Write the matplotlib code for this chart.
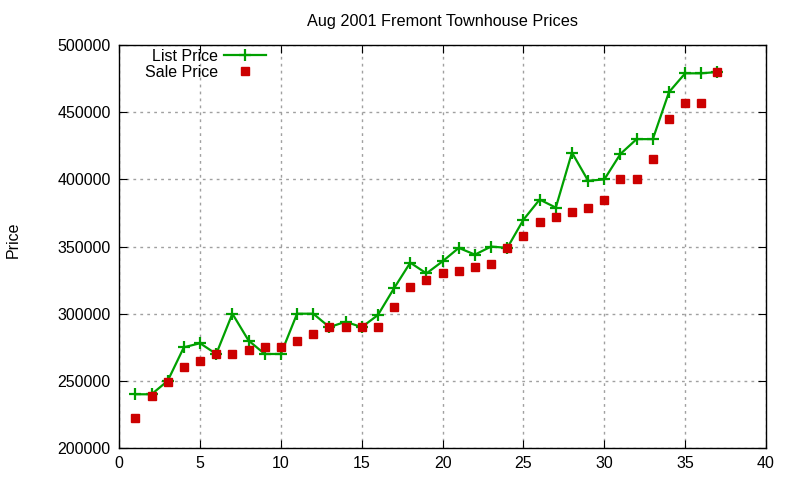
import matplotlib
matplotlib.use('Agg')
import matplotlib.pyplot as plt

plt.rcParams['font.family'] = ['Liberation Sans', 'DejaVu Sans']

idx = list(range(1, 38))
list_price = [240000, 240000, 250000, 275000, 278000, 270000, 300000, 280000, 270000, 270000,
              300000, 300000, 290000, 294000, 290000, 299000, 319000, 338000, 330000, 339000,
              349000, 344000, 350000, 349000, 370000, 385000, 379000, 420000, 399000, 400000,
              419000, 430000, 430000, 465000, 479000, 479000, 480000]
sale_price = [222000, 239000, 249000, 260000, 265000, 270000, 270000, 273000, 275000, 275000,
              280000, 285000, 290000, 290000, 290000, 290000, 305000, 320000, 325000, 330000,
              332000, 335000, 337000, 349000, 358000, 368000, 372000, 376000, 379000, 385000,
              400000, 400000, 415000, 445000, 457000, 457000, 480000]

fig = plt.figure(figsize=(8, 4.8), dpi=100)
ax = fig.add_axes([0.149, 0.0667, 0.8085, 0.8393])

ax.plot(idx, list_price, color='#00a000', lw=1.6, marker='+', ms=9, mew=1.6, label='List Price')
ax.plot(idx, sale_price, ls='none', color='#cc0000', marker='s', ms=6, label='Sale Price')

ax.set_xlim(0, 40)
ax.set_ylim(200000, 500000)
ax.set_xticks(range(0, 41, 5))
ax.set_yticks(range(200000, 500001, 50000))
ax.grid(True, color='#a0a0a0', ls=(0, (2, 3)), lw=1)
ax.tick_params(direction='in', top=True, right=True, labelsize=11.5, length=6, pad=6)
for s in ax.spines.values():
    s.set_linewidth(1)

ax.set_title('Aug 2001 Fremont Townhouse Prices', fontsize=11.7, pad=14)
fig.text(0.016, 0.5, 'Price', rotation=90, va='center', ha='center', fontsize=11.5)

ax.legend(loc='upper left', bbox_to_anchor=(0.022, 1.018), markerfirst=False, frameon=False,
          fontsize=11.5, handlelength=2.6, handletextpad=0.4, labelspacing=0.05, borderaxespad=0.3)

fig.savefig('out.png')
